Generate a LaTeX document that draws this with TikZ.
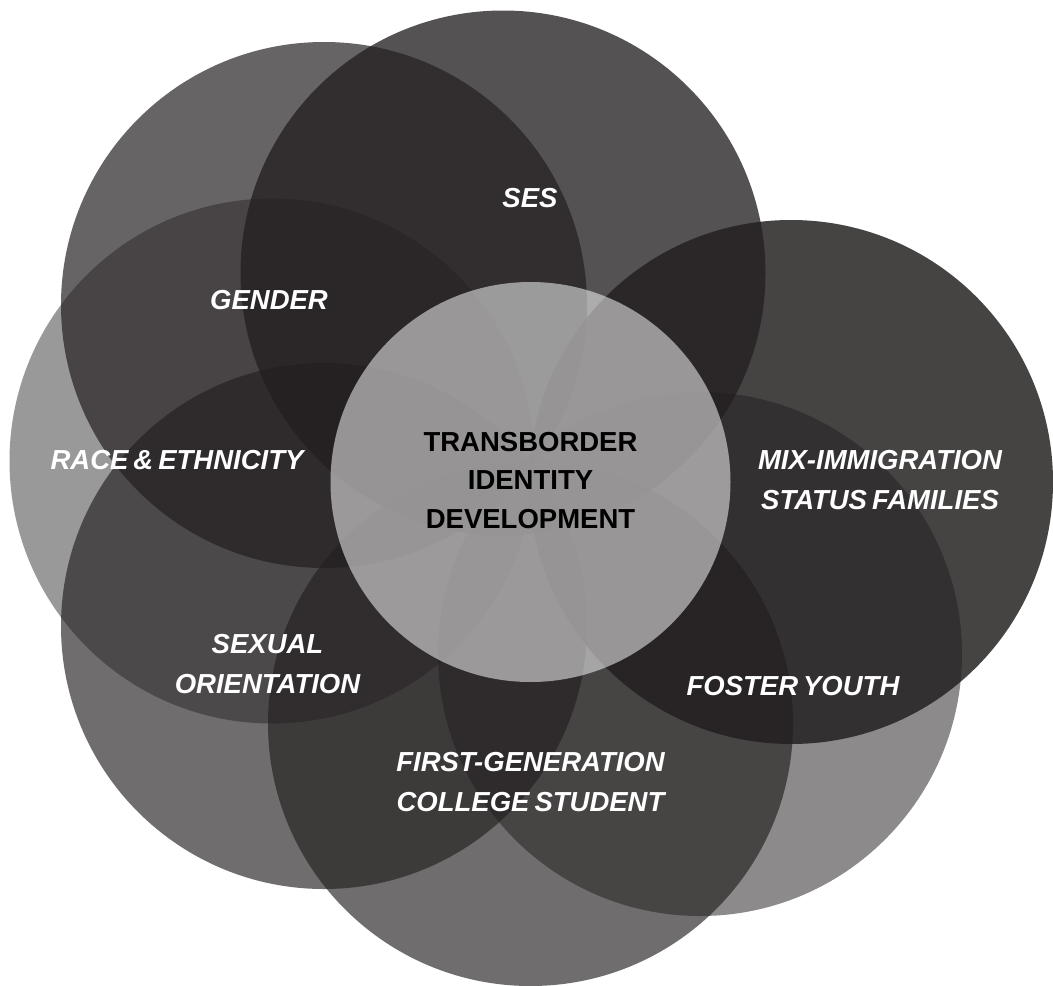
\documentclass[tikz,border=0pt]{standalone}
\usepackage{fontspec}
\setmainfont{Liberation Sans}
\newfontfamily\labelfont{Liberation Sans}[WordSpace=0.65]
\definecolor{ink}{HTML}{231F20}
\begin{document}
\begin{tikzpicture}[x=1pt,y=-1pt,
  disc/.style={fill=ink, fill opacity=#1},
  hub/.style={fill=white, fill opacity=0.52},
  tag/.style={text=white, font=\labelfont\fontsize{27.5}{39.5}\selectfont\bfseries\itshape, align=center, inner sep=0pt},
  core/.style={text=black, font=\fontsize{27.5}{38.5}\selectfont\bfseries, align=center, inner sep=0pt}]
\useasboundingbox (0,0) rectangle (1053,986);
\fill[white] (0,0) rectangle (1053,986);
\clip (0,0) rectangle (1053,986);
% outer circles, one per dimension of identity
\fill[disc=0.77] (503,273) circle[radius=262.5];   % SES
\fill[disc=0.69] (324,305) circle[radius=263];     % gender
\fill[disc=0.455] (272,461) circle[radius=262.5];  % race & ethnicity
\fill[disc=0.65] (324,626) circle[radius=263];     % sexual orientation
\fill[disc=0.65] (530.5,723.5) circle[radius=262.5]; % first-generation
\fill[disc=0.52] (700,654) circle[radius=262];     % foster youth
\fill[disc=0.84] (791,482) circle[radius=262];     % mix-immigration
% central circle
\fill[hub] (530.5,482) circle[radius=200];
% labels
\node[tag] (ses) at (530,198) {SES};
\node[tag] (gender) at (269,300) {GENDER};
\node[tag] (race) at (177,460) {RACE \& ETHNICITY};
\node[tag] (mix) at (880,480) {MIX-IMMIGRATION\\STATUS FAMILIES};
\node[tag] (sexual) at (267.5,664) {SEXUAL\\ORIENTATION};
\node[tag] (firstgen) at (530.5,782) {FIRST-GENERATION\\COLLEGE STUDENT};
\node[tag] (foster) at (793,686) {FOSTER YOUTH};
\node[core] (center) at (530.5,480.5) {TRANSBORDER\\IDENTITY\\DEVELOPMENT};
\end{tikzpicture}
\end{document}
